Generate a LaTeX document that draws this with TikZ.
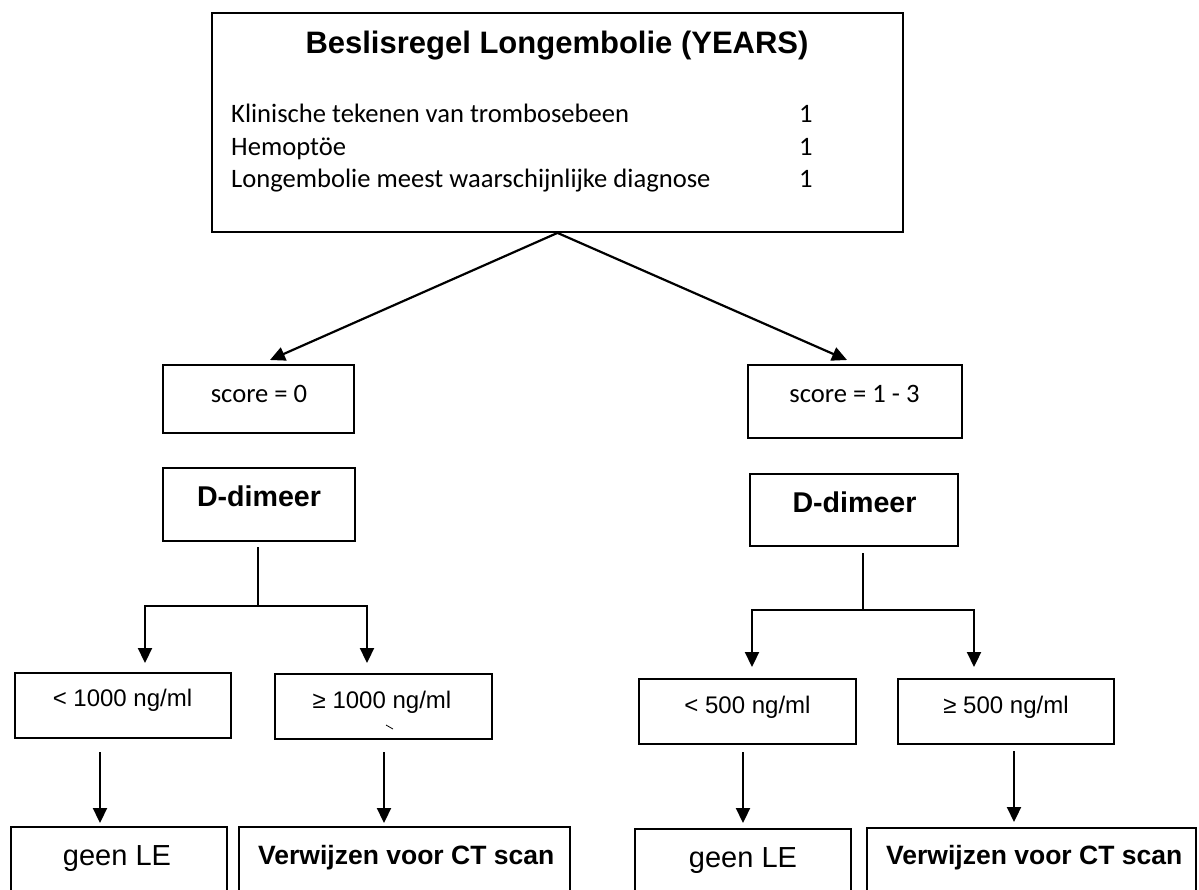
\documentclass[tikz,border=0pt]{standalone}
\usepackage{fontspec}
\setmainfont{Liberation Sans}
\newfontfamily\calibri{Carlito}
\usetikzlibrary{arrows.meta}
\begin{document}
\begin{tikzpicture}[x=1pt,y=-1pt,
  bx/.style={draw, line width=1.8pt, inner sep=0pt},
  txt/.style={inner sep=0pt, anchor=base},
  txtw/.style={inner sep=0pt, anchor=base west},
  ln/.style={line width=2.2pt},
  arr/.style={line width=2.2pt, -{Triangle[length=15pt,width=14pt]}},
  ttl/.style={font=\fontsize{31}{37}\selectfont\bfseries},
  cal/.style={font=\calibri\fontsize{26.6}{32}\selectfont},
  dd/.style={font=\fontsize{28.6}{34}\selectfont\bfseries},
  ng/.style={font=\fontsize{24}{29}\selectfont},
  gl/.style={font=\fontsize{29}{35}\selectfont},
  vw/.style={font=\fontsize{26.5}{32}\selectfont\bfseries}]
\useasboundingbox (0,0) rectangle (1199,889);
\clip (0,0) rectangle (1199,889);
\fill[white] (0,0) rectangle (1199,889);

% top box
\node[bx, minimum width=691pt, minimum height=219pt] (top) at (557.5,122.5) {};
\node[txt, ttl] (title) at (557,53) {Beslisregel Longembolie (YEARS)};
\node[txtw, cal] (c1) at (231,122) {Klinische tekenen van trombosebeen};
\node[txtw, cal] (c2) at (231,155) {Hemoptöe};
\node[txtw, cal] (c3) at (231,187) {Longembolie meest waarschijnlijke diagnose};
\node[txtw, cal] (n1) at (799,122) {1};
\node[txtw, cal] (n2) at (799,155) {1};
\node[txtw, cal] (n3) at (799,187) {1};

% score boxes
\node[bx, minimum width=191pt, minimum height=68pt] (s0) at (258.5,399) {};
\node[txt, cal] (s0t) at (259,402) {score = 0};
\node[bx, minimum width=214pt, minimum height=73pt] (s1) at (855,401.5) {};
\node[txt, cal] (s1t) at (854.5,402) {score = 1 - 3};

\coordinate (ts0) at (270,360);
\coordinate (ts1) at (847,360);
\draw[arr] (top.south) -- (ts0);
\draw[arr] (top.south) -- (ts1);

% D-dimeer boxes
\node[bx, minimum width=192pt, minimum height=73pt] (d0) at (259,504.5) {};
\node[txt, dd] (d0t) at (259,506) {D-dimeer};
\node[bx, minimum width=208pt, minimum height=72pt] (d1) at (854,510) {};
\node[txt, dd] (d1t) at (854.5,512) {D-dimeer};

% left branch
\coordinate (st0) at (258,547);
\coordinate (j0) at (258,606);
\coordinate (t00) at (145,663);
\coordinate (t01) at (367,663);
\draw[ln] (st0) -- (j0);
\draw[arr] (j0) -| (t00);
\draw[arr] (j0) -| (t01);

\node[bx, minimum width=216pt, minimum height=65pt] (l0) at (123,705.5) {};
\node[txt, ng] (l0t) at (122.5,706) {< 1000 ng/ml};
\node[bx, minimum width=217pt, minimum height=65pt] (l1) at (383.5,706.5) {};
\node[txt, ng] (l1t) at (382,708) {≥ 1000 ng/ml};
\draw[line width=0.8pt] (386,725) -- (393,729);

% right branch
\coordinate (st1) at (863,553);
\coordinate (j1) at (863,610);
\coordinate (t10) at (752,667);
\coordinate (t11) at (974,667);
\draw[ln] (st1) -- (j1);
\draw[arr] (j1) -| (t10);
\draw[arr] (j1) -| (t11);

\node[bx, minimum width=217pt, minimum height=65pt] (r0) at (747.5,711.5) {};
\node[txt, ng] (r0t) at (747.5,713) {< 500 ng/ml};
\node[bx, minimum width=216pt, minimum height=65pt] (r1) at (1006,711.5) {};
\node[txt, ng] (r1t) at (1006,713) {≥ 500 ng/ml};

% bottom boxes
\node[bx, minimum width=216pt, minimum height=100pt] (g0) at (119,877) {};
\node[txt, gl] (g0t) at (117,865) {geen LE};
\node[bx, minimum width=331pt, minimum height=100pt] (v0) at (404.5,877) {};
\node[txtw, vw] (v0t) at (258,864) {Verwijzen voor CT scan};
\node[bx, minimum width=216pt, minimum height=100pt] (g1) at (743,879) {};
\node[txt, gl] (g1t) at (743,867) {geen LE};
\node[bx, minimum width=329pt, minimum height=100pt] (v1) at (1031.5,878) {};
\node[txtw, vw] (v1t) at (886,864) {Verwijzen voor CT scan};

% down arrows
\coordinate (a0s) at (100,752); \coordinate (a0e) at (100,823);
\coordinate (a1s) at (384,752); \coordinate (a1e) at (384,823);
\coordinate (a2s) at (743,752); \coordinate (a2e) at (743,823);
\coordinate (a3s) at (1014,751); \coordinate (a3e) at (1014,822);
\draw[arr] (a0s) -- (a0e);
\draw[arr] (a1s) -- (a1e);
\draw[arr] (a2s) -- (a2e);
\draw[arr] (a3s) -- (a3e);
\end{tikzpicture}
\end{document}
